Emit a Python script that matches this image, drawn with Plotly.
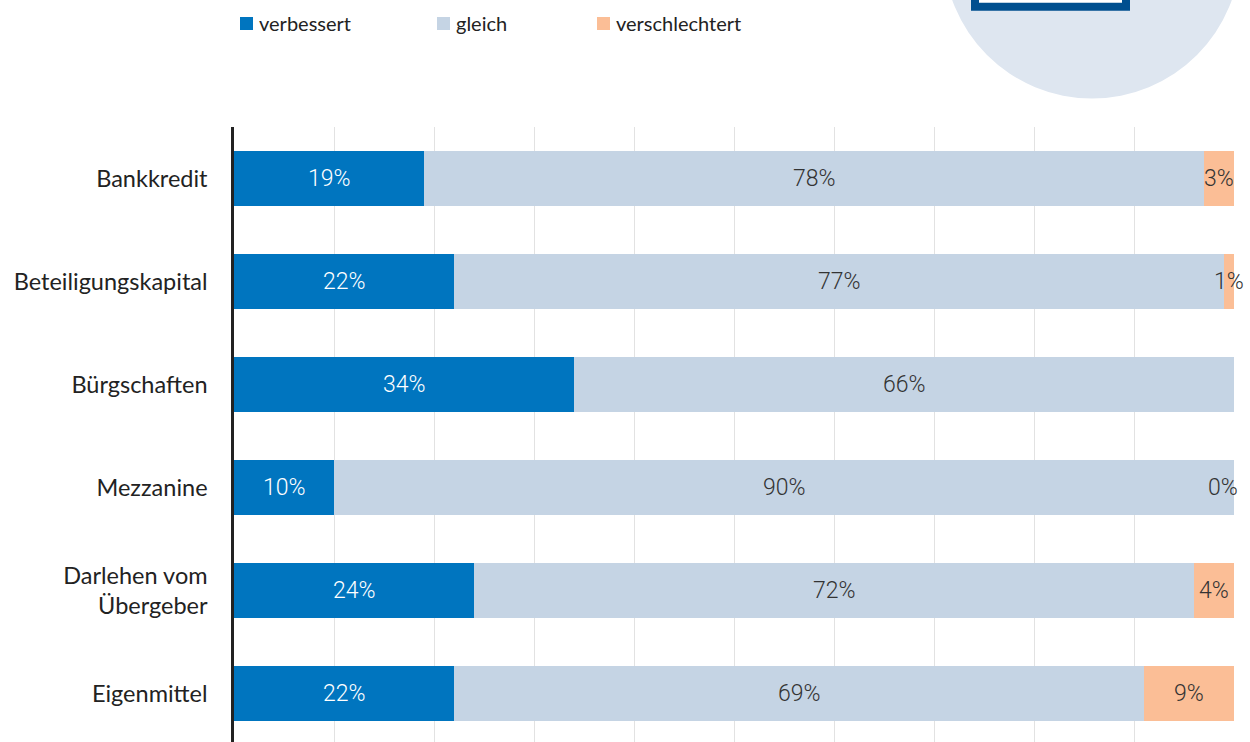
import plotly.graph_objects as go

categories = ["Bankkredit", "Beteiligungskapital", "Bürgschaften", "Mezzanine",
              "Darlehen vom<br>Übergeber", "Eigenmittel"]
verbessert = [19, 22, 34, 10, 24, 22]
gleich = [78, 77, 66, 90, 72, 69]
verschlechtert = [3, 1, 0, 0, 4, 9]
show_third_label = [True, True, False, True, True, True]
series_names = ["verbessert", "gleich", "verschlechtert"]
colors = ["#0075bf", "#c5d4e4", "#fbbe96"]
xticks = [0, 10, 20, 30, 40, 50, 60, 70, 80, 90, 100]

W, H = 1250, 742
L, R, T, B = 234, 16, 127, 0
PW, PH = W - L - R, H - T - B

def px_x(p):
    return (p - L) / PW

def px_y(p):
    return (H - B - p) / PH

ypos = list(range(len(categories)))
fig = go.Figure()
for name, vals, col in zip(series_names, [verbessert, gleich, verschlechtert], colors):
    fig.add_trace(go.Bar(
        y=ypos, x=vals, name=name, orientation="h",
        marker=dict(color=col, line=dict(width=0)),
        width=0.53, showlegend=False, hoverinfo="x+name",
    ))

annotations = []
label_font = "Roboto, Liberation Sans, sans-serif"
LS = 23
def lab_font(color):
    return dict(color=color, size=LS, family=label_font, weight=300)

for i in range(len(categories)):
    v1, v2, v3 = verbessert[i], gleich[i], verschlechtert[i]
    annotations.append(dict(x=v1 / 2, y=i, xref="x", yref="y", text=f"{v1}%",
                            showarrow=False, font=lab_font("white")))
    annotations.append(dict(x=v1 + v2 / 2, y=i, xref="x", yref="y", text=f"{v2}%",
                            showarrow=False, font=lab_font("#333333")))
    if show_third_label[i]:
        if v3 == 0:
            annotations.append(dict(x=100, y=i, xref="x", yref="y", text=f"{v3}%",
                                    xanchor="right", xshift=6, showarrow=False,
                                    font=lab_font("#333333")))
        else:
            annotations.append(dict(x=v1 + v2 + v3 / 2, y=i, xref="x", yref="y", text=f"{v3}%",
                                    showarrow=False, font=lab_font("#333333")))

# manual legend
legend_x = [240, 437, 597]
shapes = []
for lx, name, col in zip(legend_x, series_names, colors):
    shapes.append(dict(type="rect", xref="paper", yref="paper",
                       x0=px_x(lx), x1=px_x(lx + 13), y0=px_y(30), y1=px_y(17),
                       fillcolor=col, line=dict(width=0)))
    annotations.append(dict(x=px_x(lx + 17), y=px_y(23), xref="paper", yref="paper",
                            text=name, showarrow=False, xanchor="left", yanchor="middle",
                            font=dict(size=20, color="#222222", family="Lato, sans-serif")))

# decorative circle and frame
cx, cy, r = 1092, -50, 148.5
shapes.append(dict(type="circle", xref="paper", yref="paper",
                   x0=px_x(cx - r), x1=px_x(cx + r), y0=px_y(cy + r), y1=px_y(cy - r),
                   fillcolor="#dee6f0", line=dict(width=0), layer="below"))
shapes.append(dict(type="rect", xref="paper", yref="paper",
                   x0=px_x(975), x1=px_x(1126), y0=px_y(6.7), y1=px_y(-20),
                   fillcolor="white", line=dict(color="#004f8f", width=8)))

fig.update_layout(
    width=W, height=H,
    margin=dict(l=L, r=R, t=T, b=B, pad=0),
    barmode="stack", bargap=0.47,
    plot_bgcolor="white", paper_bgcolor="white",
    font=dict(family="Lato, sans-serif", size=21, color="#222222"),
    annotations=annotations, shapes=shapes,
    xaxis=dict(range=[0, 100], tickvals=xticks, showticklabels=False,
               showgrid=True, gridcolor="#e2e2e2", gridwidth=1,
               zeroline=False, showline=False, fixedrange=True),
    yaxis=dict(range=[5.47, -0.5], tickvals=ypos, ticktext=categories,
               showgrid=False, zeroline=False, showline=True, linecolor="#222222",
               linewidth=2.5, ticks="", ticklabelstandoff=19,
               tickfont=dict(size=23.5, color="#222222", family="Lato, sans-serif"),
               fixedrange=True),
)

fig.write_html("out.html", config={"displayModeBar": False},
               post_script="document.body.style.margin='0';document.body.style.overflow='hidden';")
